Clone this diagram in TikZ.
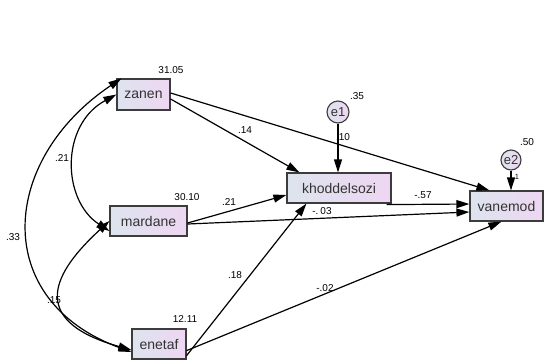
\documentclass[tikz,border=0pt]{standalone}
\usepackage{fontspec}
\setmainfont{Liberation Sans}
\usetikzlibrary{arrows.meta}
\definecolor{shL}{RGB}{221,228,238}
\definecolor{shR}{RGB}{238,214,242}
\definecolor{bord}{RGB}{60,60,60}
\tikzset{
  var/.style={draw=bord, line width=1.2pt, left color=shL, right color=shR,
    inner sep=0pt, font=\fontsize{14}{15}\selectfont, text=black!80},
  err/.style={circle, draw=bord, line width=1.1pt, left color=shL, right color=shR,
    inner sep=0pt, font=\fontsize{13}{14}\selectfont, text=black!80},
  lbl/.style={font=\fontsize{10}{11}\selectfont, inner sep=0pt},
  path/.style={line width=1.2pt, -{Triangle[length=13pt,width=8pt]}},
  cov/.style={line width=1.2pt, {Triangle[length=13pt,width=8pt]}-{Triangle[length=13pt,width=8pt]}}
}
\begin{document}
\begin{tikzpicture}[x=1pt,y=-1pt]
\useasboundingbox[fill=white] (0,0) rectangle (544,360);
% variables
\node[var, minimum width=53pt, minimum height=31pt] (zanen) at (143.5,94.5) {zanen};
\node[var, minimum width=77pt, minimum height=30pt] (mardane) at (148.5,221) {mardane};
\node[var, minimum width=54pt, minimum height=30pt] (enetaf) at (159,344) {enetaf};
\node[var, minimum width=104pt, minimum height=30pt] (khod) at (339,188) {khoddelsozi};
\node[var, minimum width=73pt, minimum height=30pt] (vanemod) at (506.5,206) {vanemod};
\node[err, minimum size=22pt] (e1) at (338,112) {e1};
\node[err, minimum size=20pt] (e2) at (511,160) {e2};
% regression paths
\draw[path] ([yshift=-4.5pt]zanen.east) -- ([xshift=13pt]khod.north west);
\draw[path] ([yshift=1.5pt]zanen.east) -- ([xshift=20pt]vanemod.north west);
\draw[path] ([yshift=-2pt]mardane.east) -- ([yshift=-7pt]khod.west);
\draw[path] ([yshift=-3pt]mardane.east) -- ([yshift=-6pt]vanemod.west);
\draw[path] ([yshift=4pt]enetaf.south east) -- ([xshift=20pt]khod.south west);
\draw[path] ([yshift=9pt]enetaf.south east) -- ([xshift=32pt]vanemod.south west);
\draw[path] ([xshift=-5pt,yshift=-1pt]khod.south east) -- ([yshift=2pt]vanemod.west);
\draw[path] (e1.south) -- (e1.south |- khod.north);
\draw[path] (e2.south) -- (e2.south |- vanemod.north);
% covariances
\draw[cov] ([xshift=5pt]zanen.north west) .. controls (0,160) and (-10,300) .. ([yshift=-8pt]enetaf.west);
\draw[cov] (zanen.west) .. controls (60,125) and (62,200) .. ([yshift=-10pt]mardane.west);
\draw[cov] (mardane.west) .. controls (55,271) and (25,320) .. ([yshift=-6pt]enetaf.west);
% labels
\node[lbl] (l1) at (171,70) {31.05};
\node[lbl] (l2) at (187,197) {30.10};
\node[lbl] (l3) at (185,319) {12.11};
\node[lbl] (l4) at (357,96) {.35};
\node[lbl] (l5) at (343,137) {.10};
\node[lbl] (l6) at (527,142) {.50};
\node[lbl, font=\fontsize{7.5}{8}\selectfont] (l7) at (517,177) {1};
\node[lbl] (l8) at (245,130) {.14};
\node[lbl] (l9) at (62,158) {.21};
\node[lbl] (l10) at (229,202) {.21};
\node[lbl] (l11) at (322,211) {-.\hspace{2pt}03};
\node[lbl] (l12) at (13,237) {.33};
\node[lbl] (l13) at (54,300) {.15};
\node[lbl] (l14) at (235,275) {.18};
\node[lbl] (l15) at (325,288) {-.02};
\node[lbl] (l16) at (423,195) {-.57};
\end{tikzpicture}
\end{document}
